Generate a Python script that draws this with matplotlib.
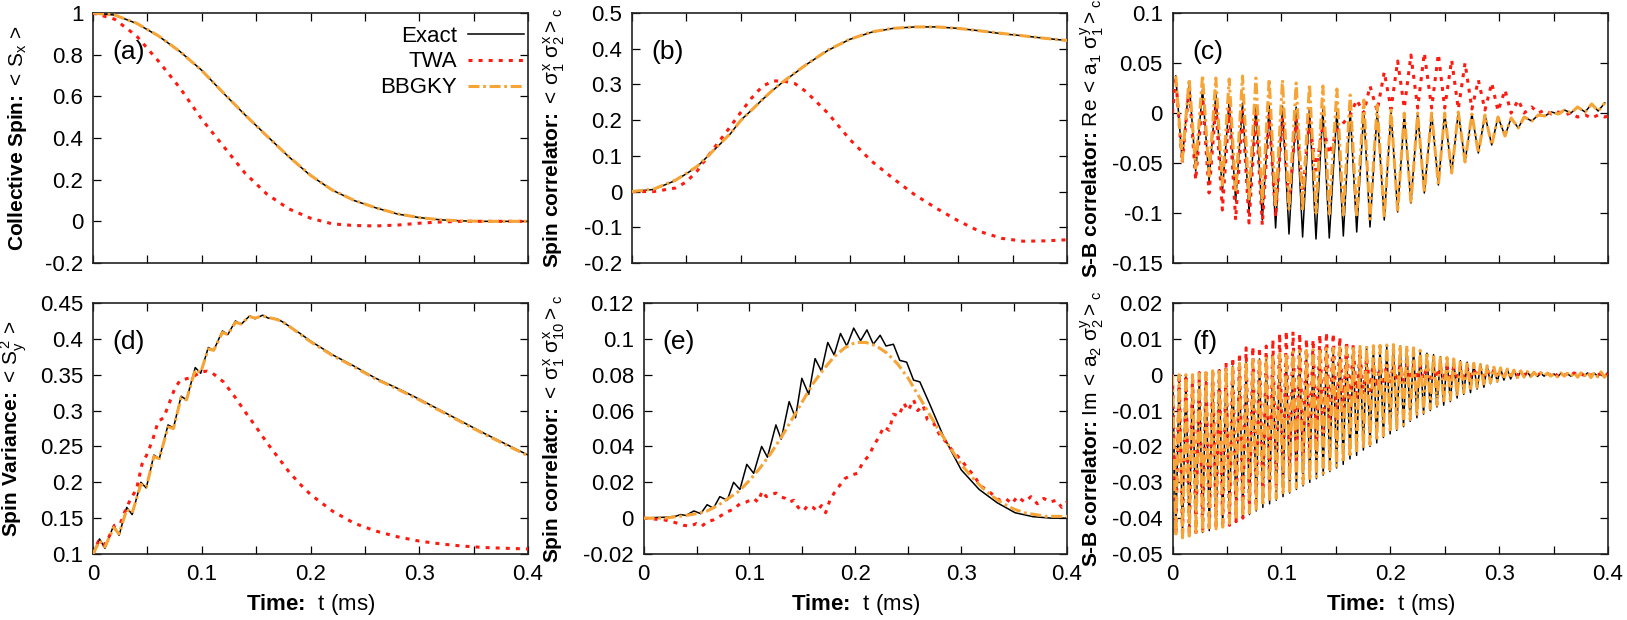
import numpy as np
import matplotlib
matplotlib.use("Agg")
import matplotlib.pyplot as plt
from matplotlib.ticker import FixedLocator, FuncFormatter

plt.rcParams["font.family"] = ["Liberation Sans", "DejaVu Sans"]
plt.rcParams["mathtext.fontset"] = "custom"
plt.rcParams["mathtext.rm"] = "Liberation Sans"
plt.rcParams["mathtext.it"] = "Liberation Sans"
plt.rcParams["mathtext.bf"] = "Liberation Sans:bold"
plt.rcParams["font.size"] = 16

# ====================== (a) collective spin <Sx> ====================== #
a_t = [0, 0.02, 0.04, 0.06, 0.08, 0.1, 0.12, 0.14, 0.16, 0.18, 0.2, 0.22,
       0.24, 0.26, 0.28, 0.3, 0.32, 0.34, 0.36, 0.4]
a_exact = [1.0, 0.99, 0.95, 0.89, 0.815, 0.725, 0.615, 0.51, 0.41, 0.31, 0.22,
           0.15, 0.10, 0.065, 0.035, 0.018, 0.007, 0.002, 0.0, 0.0]
a_twa = [1.0, 0.97, 0.89, 0.77, 0.64, 0.49, 0.36, 0.23, 0.13, 0.06, 0.015,
         -0.012, -0.02, -0.022, -0.018, -0.009, -0.003, 0.0, 0.0, 0.0]
a_bbgky = [1.0, 0.99, 0.951, 0.891, 0.815, 0.724, 0.616, 0.51, 0.409, 0.311,
           0.221, 0.15, 0.101, 0.065, 0.036, 0.018, 0.007, 0.002, 0.0, 0.0]

# ====================== (b) <s1x s2x>_c ====================== #
b_t = [0, 0.02, 0.04, 0.05, 0.06, 0.07, 0.08, 0.09, 0.1, 0.11, 0.12, 0.13,
       0.14, 0.15, 0.16, 0.18, 0.2, 0.22, 0.24, 0.26, 0.28, 0.3, 0.32, 0.34,
       0.36, 0.38, 0.4]
b_exact = [0, 0.006, 0.031, 0.05, 0.07, 0.1, 0.13, 0.16, 0.2, 0.228, 0.258,
           0.285, 0.31, 0.332, 0.355, 0.395, 0.426, 0.446, 0.457, 0.461, 0.461,
           0.457, 0.45, 0.442, 0.436, 0.429, 0.423]
b_twa = [0, 0.0, 0.01, 0.027, 0.058, 0.1, 0.14, 0.18, 0.222, 0.262, 0.295,
         0.31, 0.309, 0.302, 0.28, 0.22, 0.147, 0.086, 0.037, -0.009, -0.047,
         -0.082, -0.112, -0.131, -0.139, -0.138, -0.135]
b_bbgky = [0, 0.007, 0.032, 0.051, 0.071, 0.1, 0.131, 0.161, 0.199, 0.228,
           0.258, 0.286, 0.31, 0.333, 0.355, 0.396, 0.426, 0.447, 0.457, 0.461,
           0.461, 0.457, 0.45, 0.443, 0.436, 0.429, 0.423]

# ====================== (c) Re <a1 s1y>_c ====================== #
c_peak_t = [0.003, 0.0153, 0.0276, 0.0398, 0.0521, 0.0643, 0.0766, 0.0888,
            0.101, 0.1136, 0.1258, 0.1381, 0.151, 0.1632, 0.1757, 0.188,
            0.2007, 0.2129, 0.2252, 0.238, 0.25, 0.2625, 0.275, 0.287, 0.299,
            0.311, 0.323, 0.336, 0.348, 0.36, 0.372, 0.385, 0.397]
c_trough_t = [0.0089, 0.0213, 0.0336, 0.0458, 0.058, 0.0703, 0.0825, 0.0947,
              0.107, 0.1195, 0.1318, 0.144, 0.1569, 0.1692, 0.1814, 0.1945,
              0.2068, 0.219, 0.2313, 0.2442, 0.2564, 0.2687, 0.2809, 0.2932,
              0.3054, 0.3176, 0.33, 0.342, 0.3545, 0.366, 0.379, 0.391]
c_exact_peak = [0.037, 0.031, 0.024, 0.019, 0.013, 0.010, 0.008, 0.008, 0.007,
                0.006, 0.005, 0.004, 0.003, 0.003, 0.002, 0.002, 0.001, -0.001,
                0.0, 0.0, 0.0, 0.001, -0.001, -0.002, -0.004, -0.005, -0.004,
                -0.002, 0.001, 0.003, 0.006, 0.009, 0.010]
c_exact_trough = [-0.048, -0.058, -0.068, -0.079, -0.088, -0.099, -0.107,
                  -0.115, -0.121, -0.124, -0.126, -0.125, -0.123, -0.119,
                  -0.114, -0.107, -0.099, -0.090, -0.080, -0.072, -0.060,
                  -0.049, -0.040, -0.032, -0.023, -0.015, -0.008, -0.003,
                  -0.001, 0.0, 0.001, 0.002]
c_bbgky_peak = [0.037, 0.034, 0.038, 0.035, 0.034, 0.037, 0.035, 0.034, 0.033,
                0.030, 0.029, 0.027, 0.024, 0.018, 0.013, 0.008, 0.003, 0.0,
                0.0, 0.0, 0.0, 0.001, -0.001, -0.002, -0.004, -0.005, -0.004,
                -0.002, 0.001, 0.003, 0.006, 0.009, 0.010]
c_bbgky_trough = [-0.048, -0.055, -0.063, -0.072, -0.080, -0.086, -0.090,
                  -0.094, -0.096, -0.098, -0.100, -0.101, -0.102, -0.104,
                  -0.106, -0.105, -0.099, -0.090, -0.080, -0.072, -0.060,
                  -0.049, -0.040, -0.032, -0.023, -0.015, -0.008, -0.003,
                  -0.001, 0.0, 0.001, 0.002]
c_twa_t = [0.0, 0.003, 0.0089, 0.0153, 0.0213, 0.0276, 0.0336, 0.0398, 0.0458,
           0.0521, 0.058, 0.0643, 0.0703, 0.0766, 0.0825, 0.0888, 0.0947,
           0.101, 0.107, 0.1136, 0.1195, 0.1258, 0.1318, 0.1381, 0.144, 0.151,
           0.1569, 0.1632, 0.1692, 0.1757, 0.1814, 0.188, 0.1945, 0.2007,
           0.2068, 0.2129, 0.219, 0.2252, 0.2313, 0.238, 0.2442, 0.25, 0.2564,
           0.2625, 0.2687, 0.275, 0.2809, 0.287, 0.2932, 0.299, 0.3054, 0.311,
           0.3176, 0.323, 0.33, 0.336, 0.342, 0.348, 0.3545, 0.36, 0.366,
           0.372, 0.379, 0.385, 0.391, 0.397, 0.4]
c_twa = [0.0, 0.035, -0.050, 0.025, -0.067, 0.015, -0.080, 0.008, -0.097,
         0.004, -0.107, 0.002, -0.110, 0.0, -0.112, -0.002, -0.104, -0.004,
         -0.090, -0.006, -0.077, -0.008, -0.057, -0.012, -0.041, -0.018,
         -0.010, -0.002, 0.013, 0.0, 0.027, 0.002, 0.041, 0.004, 0.052, 0.005,
         0.058, 0.005, 0.060, 0.005, 0.059, 0.005, 0.053, 0.004, 0.050, 0.004,
         0.033, 0.003, 0.030, 0.002, 0.023, 0.0, 0.013, 0.0, 0.006, 0.0, 0.003,
         -0.001, 0.001, -0.002, 0.0, -0.004, -0.002, -0.005, -0.002, -0.004,
         -0.003]

# ====================== (d) spin variance <Sy^2> ====================== #
d_t = [0, 0.006, 0.011, 0.019, 0.024, 0.031, 0.036, 0.044, 0.049, 0.056,
       0.061, 0.069, 0.074, 0.081, 0.086, 0.094, 0.099, 0.106, 0.111, 0.119,
       0.124, 0.131, 0.136, 0.144, 0.149, 0.156, 0.161, 0.169, 0.174, 0.18,
       0.19, 0.2, 0.22, 0.24, 0.26, 0.28, 0.3, 0.32, 0.34, 0.36, 0.38, 0.4]
d_exact = [0.1, 0.121, 0.108, 0.14, 0.126, 0.165, 0.155, 0.2, 0.192, 0.238,
           0.233, 0.28, 0.276, 0.32, 0.315, 0.36, 0.352, 0.388, 0.384, 0.411,
           0.406, 0.425, 0.42, 0.432, 0.428, 0.433, 0.429, 0.428, 0.424, 0.418,
           0.408, 0.397, 0.378, 0.362, 0.345, 0.331, 0.316, 0.3, 0.284, 0.268,
           0.253, 0.238]
d_bbgky = [0.1, 0.118, 0.11, 0.137, 0.128, 0.162, 0.157, 0.197, 0.193, 0.236,
           0.233, 0.277, 0.275, 0.318, 0.315, 0.357, 0.353, 0.386, 0.384, 0.409,
           0.406, 0.423, 0.421, 0.431, 0.429, 0.432, 0.43, 0.427, 0.424, 0.418,
           0.407, 0.396, 0.377, 0.361, 0.344, 0.33, 0.315, 0.299, 0.283, 0.267,
           0.252, 0.237]
d_twa_t = [0, 0.005, 0.01, 0.015, 0.02, 0.025, 0.03, 0.035, 0.04, 0.045, 0.05,
           0.055, 0.06, 0.065, 0.07, 0.075, 0.08, 0.085, 0.09, 0.095, 0.1,
           0.105, 0.11, 0.12, 0.13, 0.14, 0.15, 0.16, 0.17, 0.18, 0.19, 0.2,
           0.22, 0.24, 0.26, 0.28, 0.3, 0.32, 0.34, 0.36, 0.38, 0.4]
d_twa = [0.1, 0.118, 0.112, 0.125, 0.14, 0.142, 0.162, 0.178, 0.19, 0.225,
         0.24, 0.26, 0.285, 0.29, 0.31, 0.33, 0.342, 0.344, 0.346, 0.35, 0.354,
         0.355, 0.352, 0.34, 0.32, 0.298, 0.277, 0.255, 0.235, 0.215, 0.198,
         0.183, 0.16, 0.143, 0.132, 0.124, 0.118, 0.114, 0.111, 0.109, 0.108,
         0.107]

# ====================== (e) <s1x s10x>_c ====================== #
e_t = [0, 0.01, 0.02, 0.03, 0.035, 0.04, 0.0475, 0.054, 0.060, 0.066, 0.072,
       0.079, 0.085, 0.091, 0.0975, 0.104, 0.1115, 0.117, 0.125, 0.130, 0.1375,
       0.1435, 0.1495, 0.156, 0.162, 0.168, 0.174, 0.180, 0.186, 0.192,
       0.1985, 0.205, 0.211, 0.217, 0.2235, 0.229, 0.236, 0.242, 0.2485, 0.255,
       0.261, 0.27, 0.283, 0.3, 0.317, 0.334, 0.351, 0.368, 0.385, 0.4]
e_exact = [0, 0.0003, 0.0005, 0.001, 0.002, 0.0015, 0.004, 0.0025, 0.0075,
           0.0055, 0.012, 0.010, 0.020, 0.016, 0.030, 0.025, 0.040, 0.034,
           0.052, 0.044, 0.065, 0.056, 0.078, 0.069, 0.089, 0.082, 0.098,
           0.091, 0.103, 0.096, 0.106, 0.099, 0.105, 0.097, 0.102, 0.096, 0.097,
           0.088, 0.087, 0.077, 0.076, 0.064, 0.046, 0.027, 0.016, 0.0086,
           0.003, 0.0008, 0.0, 0.0]
e_bbgky_t = [0, 0.02, 0.04, 0.05, 0.06, 0.07, 0.08, 0.09, 0.1, 0.11, 0.12,
             0.13, 0.14, 0.15, 0.16, 0.17, 0.18, 0.19, 0.2, 0.21, 0.22, 0.23,
             0.24, 0.25, 0.26, 0.27, 0.28, 0.29, 0.3, 0.31, 0.32, 0.33, 0.34,
             0.35, 0.36, 0.38, 0.4]
e_bbgky = [0.0, 0.0, 0.0015, 0.0025, 0.004, 0.007, 0.011, 0.015, 0.021, 0.028,
           0.036, 0.045, 0.055, 0.065, 0.075, 0.083, 0.090, 0.095, 0.098,
           0.098, 0.096, 0.092, 0.086, 0.078, 0.068, 0.058, 0.048, 0.039, 0.030,
           0.023, 0.017, 0.012, 0.008, 0.005, 0.003, 0.001, 0.001]
e_twa_t = [0, 0.01, 0.02, 0.03, 0.038, 0.044, 0.05, 0.055, 0.06, 0.066, 0.072,
           0.079, 0.085, 0.091, 0.097, 0.104, 0.108, 0.112, 0.116, 0.12, 0.125,
           0.129, 0.134, 0.138, 0.142, 0.146, 0.151, 0.155, 0.16, 0.164, 0.168,
           0.172, 0.176, 0.18, 0.185, 0.19, 0.196, 0.202, 0.207, 0.213, 0.217,
           0.222, 0.227, 0.232, 0.236, 0.241, 0.246, 0.25, 0.255, 0.259, 0.264,
           0.268, 0.274, 0.28, 0.285, 0.29, 0.296, 0.302, 0.307, 0.312, 0.318,
           0.324, 0.33, 0.336, 0.342, 0.348, 0.353, 0.36, 0.366, 0.372, 0.378,
           0.384, 0.39, 0.395, 0.4]
e_twa = [0.0, -0.0005, -0.001, -0.0025, -0.004, -0.0045, -0.003, -0.0045,
         -0.002, -0.001, 0.001, 0.0035, 0.005, 0.008, 0.009, 0.011, 0.009,
         0.015, 0.012, 0.013, 0.014, 0.012, 0.011, 0.009, 0.010, 0.006, 0.004,
         0.007, 0.006, 0.004, 0.007, 0.003, 0.010, 0.014, 0.018, 0.022, 0.024,
         0.025, 0.031, 0.035, 0.040, 0.045, 0.051, 0.049, 0.058, 0.057, 0.064,
         0.060, 0.066, 0.060, 0.063, 0.055, 0.053, 0.046, 0.043, 0.039, 0.035,
         0.031, 0.027, 0.024, 0.018, 0.016, 0.013, 0.010, 0.011, 0.008, 0.012,
         0.009, 0.012, 0.008, 0.011, 0.009, 0.010, 0.006, 0.009]

# ====================== (f) Im <a2 s2y>_c  (values in 1e-3) ====================== #
f_peak_t = [0.0000, 0.0061, 0.0123, 0.0184, 0.0246, 0.0307, 0.0369, 0.0430,
            0.0492, 0.0553, 0.0615, 0.0676, 0.0738, 0.0799, 0.0861, 0.0922,
            0.0984, 0.1045, 0.1107, 0.1168, 0.1230, 0.1291, 0.1353, 0.1414,
            0.1476, 0.1537, 0.1599, 0.1660, 0.1722, 0.1783, 0.1845, 0.1906,
            0.1968, 0.2029, 0.2091, 0.2152, 0.2214, 0.2275, 0.2337, 0.2398,
            0.2460, 0.2521, 0.2583, 0.2644, 0.2706, 0.2767, 0.2829, 0.2890,
            0.2952, 0.3013, 0.3075, 0.3136, 0.3198, 0.3259, 0.3321, 0.3382,
            0.3444, 0.3505, 0.3567, 0.3628, 0.3690, 0.3751, 0.3813, 0.3874,
            0.3936, 0.3997]
f_trough_t = [0.0031, 0.0092, 0.0154, 0.0215, 0.0277, 0.0338, 0.0400, 0.0461,
              0.0523, 0.0584, 0.0646, 0.0707, 0.0769, 0.0830, 0.0892, 0.0953,
              0.1015, 0.1076, 0.1138, 0.1199, 0.1261, 0.1322, 0.1384, 0.1445,
              0.1507, 0.1568, 0.1630, 0.1691, 0.1753, 0.1814, 0.1876, 0.1937,
              0.1999, 0.2060, 0.2122, 0.2183, 0.2245, 0.2306, 0.2368, 0.2429,
              0.2491, 0.2552, 0.2614, 0.2675, 0.2737, 0.2798, 0.2860, 0.2921,
              0.2983, 0.3044, 0.3106, 0.3167, 0.3229, 0.3290, 0.3352, 0.3413,
              0.3475, 0.3536, 0.3598, 0.3659, 0.3721, 0.3782, 0.3844, 0.3905,
              0.3967]
f_exact_peak = [0.0, 0.0, -0.3, 0.0, 0.2, 0.5, 1.0, 1.4, 1.8, 2.4,
                3.0, 3.5, 4.0, 4.4, 4.8, 5.2, 5.6, 5.9, 6.2, 6.4,
                6.6, 6.8, 7.0, 7.1, 7.2, 7.4, 7.5, 7.6, 7.7, 7.8,
                7.9, 8.0, 8.0, 8.1, 8.0, 7.8, 7.2, 6.6, 6.0, 5.6,
                5.0, 4.6, 4.2, 3.9, 3.5, 3.1, 2.8, 2.4, 2.0, 1.8,
                1.5, 1.2, 1.0, 0.8, 0.6, 0.4, 0.3, 0.2, 0.3, 0.2,
                0.4, 0.3, 0.5, 0.4, 0.6, 0.5]
f_exact_trough = [-44.5, -45.0, -44.5, -44.0, -44.0, -43.5, -43.0, -42.5, -42.0, -41.0,
                  -40.0, -39.0, -38.0, -37.0, -36.0, -35.0, -34.0, -33.0, -32.0, -31.0,
                  -30.0, -29.0, -28.0, -27.0, -26.0, -25.0, -23.5, -22.5, -21.0, -20.0,
                  -19.0, -17.5, -16.5, -15.5, -14.5, -13.0, -12.0, -11.0, -10.0, -9.0,
                  -8.5, -7.5, -6.5, -5.5, -5.0, -4.0, -3.5, -2.5, -2.0, -1.5,
                  -1.2, -1.0, -0.8, -0.6, -0.5, -0.4, -0.4, -0.5, -0.3, -0.4,
                  -0.5, -0.3, -0.6, -0.4, -0.6]
f_bbgky_peak = [0.0, 0.0, 0.0, 0.0, 0.3, 0.6, 1.1, 1.6, 2.0, 2.6,
                3.2, 3.7, 4.2, 4.6, 5.0, 5.4, 5.8, 6.1, 6.4, 6.6,
                6.8, 7.0, 7.2, 7.3, 7.4, 7.6, 7.7, 7.8, 7.9, 8.0,
                8.1, 8.2, 8.3, 8.4, 8.3, 8.1, 7.5, 6.8, 6.3, 5.8,
                5.2, 4.8, 4.4, 4.0, 3.6, 3.2, 2.9, 2.5, 2.1, 1.9,
                1.6, 1.3, 1.1, 0.9, 0.7, 0.5, 0.4, 0.3, 0.5, 0.4,
                0.6, 0.5, 0.7, 0.6, 0.8, 0.7]
f_bbgky_trough = [-45.0, -45.5, -45.0, -44.5, -44.0, -43.5, -43.0, -42.5, -41.5, -40.5,
                  -39.5, -38.5, -37.5, -36.5, -35.5, -34.5, -33.5, -32.5, -31.5, -30.5,
                  -29.5, -28.5, -27.5, -26.5, -25.5, -24.5, -23.0, -22.0, -20.5, -19.5,
                  -18.5, -17.0, -16.0, -15.0, -14.0, -12.5, -11.5, -10.5, -9.5, -8.5,
                  -8.0, -7.0, -6.0, -5.0, -4.5, -3.5, -3.0, -2.2, -1.8, -1.3,
                  -1.0, -0.8, -0.6, -0.5, -0.4, -0.3, -0.4, -0.6, -0.4, -0.5,
                  -0.7, -0.5, -0.8, -0.6, -0.7]
f_twa_peak = [0.0, 0.0, 0.0, 0.3, 0.6, 1.0, 1.5, 2.2, 3.5, 4.8,
              6.0, 7.5, 7.8, 7.6, 8.0, 9.8, 11.5, 12.2, 12.0, 11.5,
              10.0, 9.8, 11.2, 11.8, 11.5, 10.5, 9.3, 8.3, 6.5, 5.0,
              4.0, 3.5, 3.2, 3.0, 3.0, 2.8, 2.6, 2.5, 2.5, 2.4,
              2.3, 2.2, 2.0, 2.0, 1.8, 1.6, 1.5, 1.4, 1.2, 1.0,
              0.9, 0.8, 0.7, 0.6, 0.5, 0.5, 0.4, 0.5, 0.4, 0.3,
              0.5, 0.4, 0.3, 0.5, 0.4, 0.3]
f_twa_trough = [-44.5, -45.0, -44.5, -44.0, -44.0, -43.5, -43.0, -42.5, -42.0, -41.0,
                -40.0, -38.5, -37.0, -35.0, -33.0, -31.0, -29.0, -27.0, -25.0, -23.0,
                -21.0, -19.0, -17.0, -15.0, -13.0, -11.0, -9.0, -7.0, -5.5, -4.5,
                -3.5, -3.0, -2.5, -2.0, -2.0, -1.5, -1.5, -1.2, -1.0, -1.0,
                -0.8, -0.8, -0.6, -0.6, -0.5, -0.5, -0.4, -0.4, -0.3, -0.3,
                -0.3, -0.2, -0.2, -0.3, -0.2, -0.1, -0.2, -0.3, -0.2, -0.1,
                -0.2, -0.3, -0.2, -0.1, -0.2]

# ====================== 樣式 ====================== #
RED = "#ff1a10"
ORANGE = "#f7a436"
TWA_LS = (0, (1.3, 2.0))
BB_LS = (0, (3.6, 1.2, 0.9, 1.2))


def zigzag(t_peak, v_peak, t_trough, v_trough, scale=1.0):
    t = np.concatenate([t_peak, t_trough])
    v = np.concatenate([v_peak, v_trough]) * scale
    order = np.argsort(t)
    return t[order], v[order]


def draw(ax, ex, twa, bb):
    # gnuplot 的繪圖順序：後畫的在上層
    ax.plot(ex[0], ex[1], color="black", lw=1.1, label="Exact", zorder=2)
    ax.plot(twa[0], twa[1], color=RED, lw=2.2, ls=TWA_LS, label="TWA", zorder=3)
    ax.plot(bb[0], bb[1], color=ORANGE, lw=2.2, ls=BB_LS, label="BBGKY", zorder=4)


def style(ax, yticks, ylabel, letter, bottom_row, label_x):
    ax.set_xlim(0, 0.4)
    ax.set_ylim(yticks[0], yticks[-1])
    ax.xaxis.set_major_locator(FixedLocator(np.arange(0, 0.4001, 0.05)))
    if bottom_row:
        ax.xaxis.set_major_formatter(FuncFormatter(
            lambda v, p: f"{round(v, 2) + 0.0:g}" if abs(v * 10 - round(v * 10)) < 1e-6 else ""))
        ax.set_xlabel("Time:  " + r"$t\ (ms)$", fontweight="bold", fontsize=16, labelpad=5)
    else:
        ax.xaxis.set_major_formatter(FuncFormatter(lambda v, p: ""))
    ax.yaxis.set_major_locator(FixedLocator(yticks))
    ax.yaxis.set_major_formatter(FuncFormatter(lambda v, p: f"{round(v, 3) + 0.0:g}"))
    ax.tick_params(direction="in", length=6, width=0.9, top=True, right=True,
                   labelsize=16, pad=7, colors="black")
    for s in ax.spines.values():
        s.set_linewidth(1.2)
        s.set_color("#222222")
    ax.set_ylabel(ylabel, fontsize=15, fontweight="bold")
    ax.yaxis.set_label_coords(label_x, 0.5)
    ax.text(0.045, 0.845, letter, transform=ax.transAxes, fontsize=19,
            ha="left", va="center")


W, H = 1627, 620
fig = plt.figure(figsize=(W / 100, H / 100), dpi=100)


def px_axes(left, top, width, height):
    return fig.add_axes([left / W, 1 - (top + height) / H, width / W, height / H])


ax_a = px_axes(93, 13, 435, 250)
ax_b = px_axes(632, 13, 435, 250)
ax_c = px_axes(1172.5, 13, 435.5, 250)
ax_d = px_axes(93, 303, 435, 251)
ax_e = px_axes(643.6, 303, 423.4, 251)
ax_f = px_axes(1172.5, 303, 435.5, 251)

draw(ax_a, (a_t, a_exact), (a_t, a_twa), (a_t, a_bbgky))
draw(ax_b, (b_t, b_exact), (b_t, b_twa), (b_t, b_bbgky))
draw(ax_c,
     zigzag(c_peak_t, c_exact_peak, c_trough_t, c_exact_trough),
     (c_twa_t, c_twa),
     zigzag(c_peak_t, c_bbgky_peak, c_trough_t, c_bbgky_trough))
draw(ax_d, (d_t, d_exact), (d_twa_t, d_twa), (d_t, d_bbgky))
draw(ax_e, (e_t, e_exact), (e_twa_t, e_twa), (e_bbgky_t, e_bbgky))
draw(ax_f,
     zigzag(f_peak_t, f_exact_peak, f_trough_t, f_exact_trough, 1e-3),
     zigzag(f_peak_t, f_twa_peak, f_trough_t, f_twa_trough, 1e-3),
     zigzag(f_peak_t, f_bbgky_peak, f_trough_t, f_bbgky_trough, 1e-3))

style(ax_a, [-0.2, 0, 0.2, 0.4, 0.6, 0.8, 1.0],
      "Collective Spin: " + r"$<\,S_{x}\,>$", "(a)", False, -0.147)
style(ax_b, [-0.2, -0.1, 0, 0.1, 0.2, 0.3, 0.4, 0.5],
      "Spin correlator: " + r"$<\,\sigma_{1}^{x}\ \sigma_{2}^{x}>_{c}$", "(b)", False, -0.149)
style(ax_c, [-0.15, -0.1, -0.05, 0, 0.05, 0.1],
      "S-B correlator: " + r"$Re\,<\,a_{1}\ \sigma_{1}^{y}>_{c}$", "(c)", False, -0.153)
style(ax_d, [0.1, 0.15, 0.2, 0.25, 0.3, 0.35, 0.4, 0.45],
      "Spin Variance: " + r"$<\,S_{y}^{2}\,>$", "(d)", True, -0.147)
style(ax_e, [-0.02, 0, 0.02, 0.04, 0.06, 0.08, 0.1, 0.12],
      "Spin correlator: " + r"$<\,\sigma_{1}^{x}\ \sigma_{10}^{x}>_{c}$", "(e)", True, -0.181)
style(ax_f, [-0.05, -0.04, -0.03, -0.02, -0.01, 0, 0.01, 0.02],
      "S-B correlator: " + r"$Im\,<\,a_{2}\ \sigma_{2}^{y}>_{c}$", "(f)", True, -0.153)

leg = ax_a.legend(loc="upper right", bbox_to_anchor=(0.99, 0.95), frameon=False,
                  markerfirst=False, fontsize=16, handlelength=2.5, handletextpad=0.5,
                  labelspacing=0.22, borderpad=0, borderaxespad=0)
leg.set_zorder(10)

fig.savefig("out.png", dpi=100)
